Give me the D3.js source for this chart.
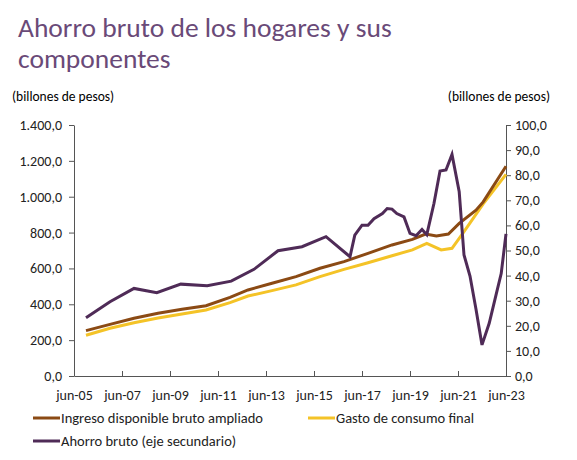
<!DOCTYPE html><html><head><meta charset="utf-8"><script src="https://cdn.jsdelivr.net/npm/d3@7"></script>
<style>body{margin:0;background:#fff}text{font-family:Calibri,"Liberation Sans",Carlito,sans-serif}</style></head><body><svg id="c" width="577" height="460"></svg><script>
const ingT=[2006,2007,2008,2009,2010,2011,2012,2012.75,2013.75,2014.75,2015.75,2016.75,2017.75,2018.75,2019.6,2020.15,2020.6,2021.1,2021.55,2022.25,2022.55,2023.5];
const ingV=[253,288,322,350,372,392,439,480,517,554,601,638,684,731,762,792,781,792,851,925,971,1170];
const gasT=[2006,2007,2008,2009,2010,2011,2012,2012.75,2013.75,2014.75,2015.75,2016.75,2017.75,2018.75,2019.6,2020.2,2020.8,2021.25,2021.7,2022.55,2023.5];
const gasV=[227,266,297,323,346,368,409,446,476,508,554,595,632,671,703,740,703,712,796,960,1125];
const ahoT=[2006,2007,2008,2008.95,2009.95,2011.05,2012.05,2013,2014,2015,2016,2017,2017.2,2017.5,2017.75,2018,2018.35,2018.55,2018.75,2018.95,2019.25,2019.5,2019.75,2020,2020.2,2020.5,2020.75,2021,2021.25,2021.55,2021.75,2022,2022.25,2022.5,2022.8,2023.1,2023.3,2023.5];
const ahoV=[23.2,29.6,34.9,33.2,36.6,36.0,37.8,42.5,49.9,51.5,55.5,47.5,56.1,60.1,60.1,62.7,64.7,66.7,66.5,64.7,63.4,56.8,55.9,58.4,56.3,68.8,81.7,82.1,88.3,73.4,48.2,39.8,26.6,12.4,21.0,32.9,40.8,56.6];
const xLabels=["jun-05","jun-07","jun-09","jun-11","jun-13","jun-15","jun-17","jun-19","jun-21","jun-23"];
const xTickYears=[2005.5,2007.5,2009.5,2011.5,2013.5,2015.5,2017.5,2019.5,2021.5,2023.5];
const leftTicks=[0,200,400,600,800,1000,1200,1400];
const rightTicks=[0,10,20,30,40,50,60,70,80,90,100];
const fmt=v=>d3.format(",.1f")(v).replace(/,/g,"X").replace(".",",").replace(/X/g,".");
const svg=d3.select("#c");
const L=74,R=506,T=125,B=376;
const x=d3.scaleLinear().domain([2005.5,2023.5]).range([L,R]);
const yL=d3.scaleLinear().domain([0,1400]).range([B,T]);
const yR=d3.scaleLinear().domain([0,100]).range([B,T]);
const purple="#4f2b57",brown="#8b4a14",yellow="#f4c327";
svg.append("text").attr("x",18).attr("y",37).attr("font-size",27.5).attr("fill","#6a4a78").text("Ahorro bruto de los hogares y sus");
svg.append("text").attr("x",18).attr("y",68).attr("font-size",27.5).attr("fill","#6a4a78").text("componentes");
svg.append("text").attr("x",12).attr("y",101).attr("font-size",13.5).text("(billones de pesos)");
svg.append("text").attr("x",550).attr("y",101).attr("font-size",13.5).attr("text-anchor","end").text("(billones de pesos)");
const gl=svg.append("g").attr("transform",`translate(${L},0)`).call(d3.axisLeft(yL).tickValues(leftTicks).tickFormat(fmt).tickSize(5).tickSizeOuter(0));
const gr=svg.append("g").attr("transform",`translate(${R},0)`).call(d3.axisRight(yR).tickValues(rightTicks).tickFormat(fmt).tickSize(5).tickSizeOuter(0));
const gb=svg.append("g").attr("transform",`translate(0,${B})`).call(d3.axisBottom(x).tickValues(xTickYears).tickFormat((d,i)=>xLabels[i]).tickSize(-5).tickSizeOuter(0));
[gl,gr,gb].forEach(g=>{g.selectAll("text").attr("font-size",14).attr("fill","#222").style("font-family","Calibri,'Liberation Sans',sans-serif");g.selectAll("path,line").attr("stroke","#555");});
gl.selectAll("text").attr("x",-12);gr.selectAll("text").attr("x",9);gb.selectAll("text").attr("y",14);
const line=(T,V,y)=>d3.line().x((d,i)=>x(T[i])).y(d=>y(d))(V);
svg.append("path").attr("d",line(gasT,gasV,yL)).attr("fill","none").attr("stroke",yellow).attr("stroke-width",3);
svg.append("path").attr("d",line(ingT,ingV,yL)).attr("fill","none").attr("stroke",brown).attr("stroke-width",3);
svg.append("path").attr("d",line(ahoT,ahoV,yR)).attr("fill","none").attr("stroke",purple).attr("stroke-width",3);
const leg=[["Ingreso disponible bruto ampliado",brown,33,423],["Gasto de consumo final",yellow,308,423],["Ahorro bruto (eje secundario)",purple,33,446]];
leg.forEach(([t,c,lx,ly])=>{svg.append("line").attr("x1",lx).attr("x2",lx+27).attr("y1",ly-5).attr("y2",ly-5).attr("stroke",c).attr("stroke-width",3);
svg.append("text").attr("x",lx+28).attr("y",ly).attr("font-size",14.5).attr("fill","#222").text(t);});
</script></body></html>
